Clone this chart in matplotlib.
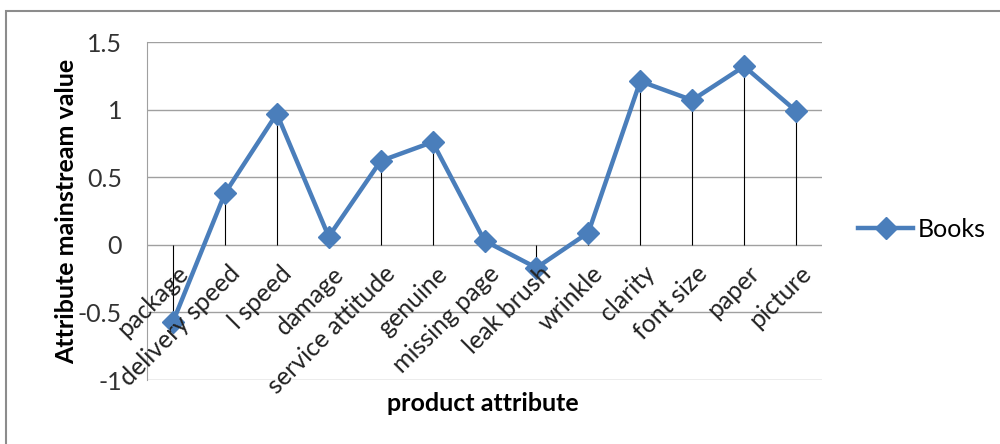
import matplotlib
matplotlib.use("Agg")
import matplotlib.pyplot as plt
import matplotlib.transforms as mtransforms
from matplotlib.patches import Rectangle

# data
attributes = ["package", "delivery speed", "l speed", "damage", "service attitude",
              "genuine", "missing page", "leak brush", "wrinkle", "clarity",
              "font size", "paper", "picture"]
books = [-0.57, 0.38, 0.97, 0.06, 0.62, 0.76, 0.03, -0.17, 0.09, 1.21, 1.07, 1.32, 0.99]
y_ticks = [-1, -0.5, 0, 0.5, 1, 1.5]
y_tick_labels = ["-1", "-0.5", "0", "0.5", "1", "1.5"]

plt.rcParams['font.family'] = ['Lato', 'DejaVu Sans']

fig = plt.figure(figsize=(10, 4.44), dpi=100)
fig.patch.set_facecolor("white")

# outer chart border
fig.add_artist(Rectangle((0.006, -0.05), 1.1, 1.05 - 11 / 444, transform=fig.transFigure,
                         fill=False, ec="#8c8c8c", lw=1.5))

ax = fig.add_axes([0.147, 1 - 380 / 444, 0.675, (380 - 42) / 444])
x = list(range(len(attributes)))

# gridlines
for t in y_ticks:
    ax.axhline(t, color="#a0a0a0", lw=1.0, zorder=0)

# drop lines
ax.vlines(x, 0, books, color="black", lw=0.8, zorder=1)

ax.plot(x, books, color="#4a7ebb", lw=3.2, marker="D", markersize=11,
        markerfacecolor="#4a7ebb", markeredgecolor="#4a7ebb", zorder=3, label="Books")

ax.set_xlim(-0.5, len(attributes) - 0.5)
ax.set_ylim(-1, 1.5)
ax.set_yticks(y_ticks)
ax.set_yticklabels(y_tick_labels, fontsize=18, color="#333333")
ax.tick_params(axis="y", length=0, pad=18)

ax.set_xticks([])
offset = mtransforms.ScaledTranslation(3 / 100, -17 / 100, fig.dpi_scale_trans)
for i, name in enumerate(attributes):
    ax.text(i, 0, name, rotation=45, ha="right", va="top", rotation_mode="anchor",
            fontsize=18, color="#222222", transform=ax.transData + offset)

for s in ["top", "right", "bottom"]:
    ax.spines[s].set_visible(False)
ax.spines["left"].set_color("#a0a0a0")

ax.set_ylabel("Attribute mainstream value", fontsize=18, fontweight="bold", labelpad=0)
fig.text(0.483, 1 - 403 / 444, "product attribute", fontsize=18, fontweight="bold",
         ha="center", va="center")

ax.legend(loc="center left", bbox_to_anchor=(1.02, 0.445), frameon=False, fontsize=18,
          handlelength=2.2, handletextpad=0.2)

fig.savefig("out.png", dpi=100)
